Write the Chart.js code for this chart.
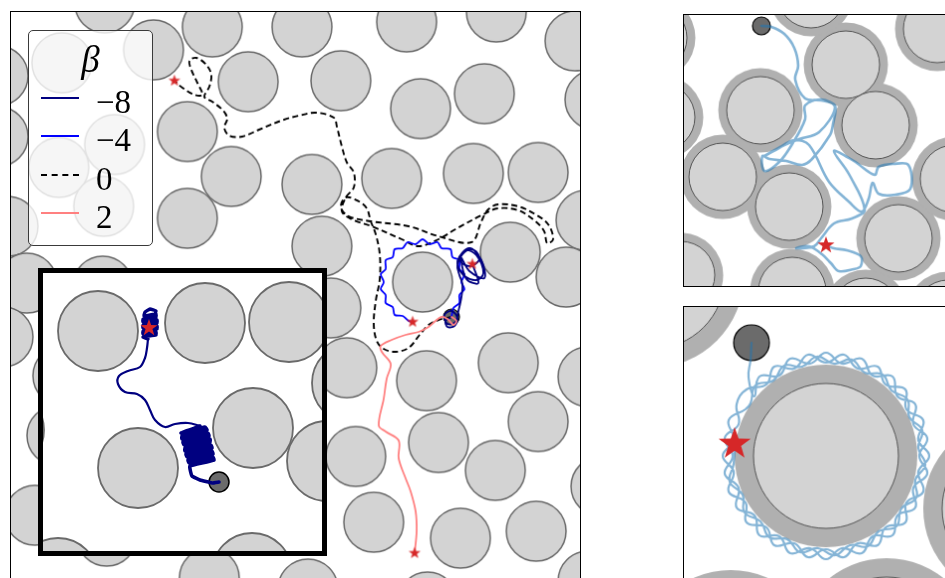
<!DOCTYPE html>
<html>
<head>
<meta charset="utf-8">
<script src="https://cdn.jsdelivr.net/npm/chart.js@4.4.0/dist/chart.umd.min.js"></script>
<style>
  body { margin: 0; width: 945px; height: 578px; overflow: hidden; position: relative; background: #fff; }
  canvas { position: absolute; display: block; }
  #main { left: 10px; top: 11px; border: 1px solid #000; }
  #insetBox { position: absolute; left: 38px; top: 268px; width: 289px; height: 288px; border: 5px solid #000; box-sizing: border-box; background: #fff; overflow: hidden; }
  #inset { left: 0; top: 0; }
  #tr { left: 683px; top: 14px; border: 1px solid #000; }
  #br { left: 683px; top: 306px; border: 1px solid #000; }
  #legend { position: absolute; left: 28px; top: 30px; width: 125px; height: 216px; box-sizing: border-box;
            border: 1px solid #3a3a3a; border-radius: 5px; background: rgba(255,255,255,0.8);
            font-family: 'Liberation Serif', serif; color: #000; }
  #legend .title { position: absolute; left: 0; right: 0; top: 10px; text-align: center; font-size: 37px; line-height: 37px; font-style: italic; }
  #legend .row { position: absolute; left: 0; height: 38px; width: 120px; }
  #legend .ln { position: absolute; left: 12px; width: 38px; top: 14px; height: 0; }
  #legend .lab { position: absolute; left: 67px; top: 0; font-size: 33px; line-height: 38px; white-space: nowrap; }
</style>
</head>
<body>
<canvas id="main" width="571" height="571"></canvas>
<div id="legend"><div class="title">β</div></div>
<div id="insetBox"><canvas id="inset" width="279" height="278"></canvas></div>
<canvas id="tr" width="273" height="273"></canvas>
<canvas id="br" width="273" height="273"></canvas>
<script>
// ---- data (picture coordinates) ----
const betaLabels = ['−8', '−4', '0', '2'];
const betaColors = ['#000080', '#0000ff', '#000000', '#ff8080'];

const mainDiscs = [
  [105, 3], [62, 63], [154, 50], [213, 27], [303, 27], [408, 22], [498, 12], [577, 41],
  [-2, 76], [249, 82], [342, 81], [422, 109], [486, 94], [597, 100],
  [-2, 137], [115, 145], [188, 132], [59, 168], [232, 177], [313, 185], [393, 179], [475, 174], [540, 173], [588, 221],
  [104, 207], [188, 219], [8, 227], [323, 247], [512, 253], [568, 278], [424, 283],
  [27, 284], [103, 287], [3, 338], [332, 309], [348, 369], [428, 382], [510, 364], [590, 378],
  [63, 377], [57, 437], [540, 423], [440, 444], [357, 458], [497, 472], [603, 488],
  [35, 517], [375, 524], [462, 540], [538, 533], [107, 538],
  [210, 580], [309, 591], [429, 604], [590, 583]
];

const pathBeta0 = [
  [453, 318], [440, 321], [430, 326], [421, 336], [410, 349], [397, 353], [385, 350], [378, 342], [375, 325],
  [377, 302], [381, 280], [381, 255], [377, 235], [372, 222], [368, 209], [360, 202], [347, 198], [342, 208],
  [350, 217], [372, 222], [410, 227], [440, 237], [473, 243], [483, 222], [490, 210], [500, 205], [520, 207],
  [537, 215], [550, 225], [555, 240], [549, 244], [546, 232], [536, 221], [520, 211], [500, 209], [483, 216],
  [457, 230], [440, 240], [420, 247], [403, 240], [373, 227], [353, 220], [343, 212], [347, 198], [355, 188],
  [355, 173], [348, 163], [343, 147], [338, 127], [335, 118], [317, 113], [300, 116], [285, 120], [260, 130],
  [243, 137], [230, 136], [225, 128], [228, 119], [224, 111], [213, 102], [205, 97], [210, 87], [212, 75],
  [207, 65], [197, 58], [190, 61], [192, 70], [198, 83], [203, 95], [195, 95], [183, 88], [175, 81]
];
const pathBetaM4 = [
  [453, 318], [455, 309], [461, 304], [461, 296], [466, 290], [463, 283], [466, 275], [461, 270], [461, 261],
  [454, 258], [452, 250], [443, 249], [439, 243], [431, 245], [424, 240], [417, 245], [409, 243], [404, 249],
  [396, 250], [394, 258], [387, 261], [387, 270], [382, 275], [385, 283], [382, 290], [387, 296], [387, 304],
  [394, 308], [396, 316], [404, 317], [410, 322], [414, 323]
];
const pathBetaM8 = [
  [453, 318], [447, 322], [449, 328], [456, 327], [459, 319], [453, 312], [446, 316], [449, 325], [457, 323],
  [460, 312], [463, 298], [464, 285], [461, 276], [459, 266], [466, 253], [476, 251], [481, 260], [472, 267],
  [462, 262], [467, 251], [478, 256], [485, 274], [478, 281], [465, 276], [459, 262], [471, 249], [483, 261],
  [486, 279], [471, 272], [463, 259], [468, 280], [480, 284], [474, 265]
];
const pathBeta2 = [
  [453, 318], [458, 322], [455, 326], [449, 320], [443, 318], [437, 322], [430, 328], [420, 333], [407, 336],
  [393, 341], [382, 347], [383, 353], [392, 365], [388, 380], [385, 400], [380, 427], [387, 433], [400, 442],
  [400, 460], [407, 480], [412, 493], [417, 513], [418, 533], [416, 555]
];
const mainStars = [[175, 81], [414, 323], [474, 265], [416, 555]];
const mainStart = [[453, 318]];

const insetDiscs = [[98, 331], [205, 323], [289, 322], [253, 428], [138, 468], [327, 461], [252, 573], [352, 383], [58, 578], [4, 430]];
// inset trajectory, in three stretches: dense block near the start, the walk, dense block at the star
const insetBlockA = [
  [219, 482], [212, 483], [200, 480], [192, 476], [190, 469],
  [190, 466], [214, 460], [213, 457], [189, 463], [188, 460], [213, 454], [212, 451], [187, 457], [186, 454],
  [212, 448], [211, 445], [185, 451], [185, 448], [210, 442], [210, 439], [184, 445], [183, 442], [209, 436],
  [208, 433], [182, 439], [182, 436], [207, 430], [205, 427], [181, 433], [200, 426]
];
const insetWalk = [
  [200, 426], [188, 423], [175, 424], [165, 427], [155, 420], [150, 410], [145, 400], [137, 394], [125, 392],
  [118, 384], [119, 376], [128, 371], [140, 367], [145, 358], [147, 348], [148, 339]
];
const insetBlockB = [
  [148, 339], [143, 337], [156, 335], [156, 332], [143, 334], [143, 331], [157, 329], [157, 326], [143, 328],
  [143, 325], [157, 323], [157, 320], [143, 322], [143, 319], [156, 317], [156, 314], [144, 316], [145, 312],
  [150, 309], [156, 311], [149, 328]
];
const insetStars = [[149, 328]];
const insetStart = [[219, 482]];

const trDiscs = [[847, 65], [761, 111], [877, 126], [723, 178], [790, 208], [900, 240], [939, 29], [956, 180],
  [653, 38], [661, 118], [681, 277], [793, 293], [867, 314], [950, 316], [812, -6]];
const trPath = [
  [762, 26], [772, 27], [785, 34], [795, 48], [799, 66], [796, 80], [806, 99], [822, 101], [836, 106], [834, 125],
  [831, 136], [813, 160], [803, 166], [787, 162], [770, 160], [763, 157], [765, 172], [780, 163], [793, 145],
  [806, 120], [806, 106], [822, 100], [836, 108], [820, 133], [800, 140], [785, 146], [765, 157], [778, 150],
  [795, 141], [810, 146], [830, 183], [850, 203], [863, 213], [870, 200], [874, 184], [880, 195], [897, 196],
  [912, 190], [910, 166], [895, 165], [880, 168], [876, 176], [855, 162], [835, 152], [850, 175], [866, 211],
  [853, 220], [835, 225], [822, 240], [815, 248], [797, 250], [810, 248], [823, 256], [832, 265], [840, 273],
  [855, 271], [862, 268], [862, 258], [848, 252], [835, 250], [827, 247]
];
const trStars = [[827, 247]];
const trStart = [[762, 26]];

const brDiscs = [[827, 457], [652, 276], [1017, 510], [888, 652], [731, 664]];
const brPath = [
  [752, 343], [751, 360], [749, 378],
  [755, 397], [760, 377], [780, 376], [791, 359], [811, 364], [827, 353], [843, 364], [863, 359], [874, 376],
  [894, 377], [899, 397], [917, 405], [915, 425], [929, 439], [921, 457], [929, 475], [915, 489], [917, 509],
  [899, 517], [894, 537], [874, 538], [863, 555], [843, 550], [827, 561], [811, 550], [791, 555], [780, 538],
  [760, 537], [755, 517], [737, 509], [739, 489], [725, 475], [733, 457], [725, 439], [739, 425], [737, 405],
  [747, 390], [767, 385], [775, 367], [795, 369], [809, 355], [827, 363], [845, 355], [859, 369], [879, 367],
  [887, 385], [907, 390], [908, 410], [925, 421], [920, 441], [931, 457], [920, 473], [925, 493], [908, 504],
  [907, 524], [887, 529], [879, 547], [859, 545], [845, 559], [827, 551], [809, 559], [795, 545], [775, 547],
  [767, 529], [747, 524], [746, 504], [729, 493], [734, 473], [723, 457], [734, 441], [729, 421], [746, 410],
  [751, 404], [756, 386], [774, 381], [785, 366], [803, 367], [818, 357], [835, 364], [853, 360], [866, 373],
  [884, 375], [893, 391], [909, 400], [911, 418], [924, 431], [920, 449], [927, 466], [917, 481], [918, 499],
  [903, 510], [898, 528], [880, 533], [869, 548], [851, 547], [836, 557], [819, 550], [801, 554], [788, 541],
  [770, 539], [761, 523], [745, 514], [743, 496], [730, 483], [734, 465], [735, 445]
];
const brStars = [[735, 445]];
const brStart = [[752, 343]];

// ---- helpers ----
const pts = list => list.map(([x, y]) => ({ x, y }));
const pxLen = (chart, d) => Math.abs(chart.scales.x.getPixelForValue(d) - chart.scales.x.getPixelForValue(0));

function starImage(R, color) {
  const c = document.createElement('canvas');
  const s = Math.ceil(R * 2 + 2);
  c.width = c.height = s;
  const g = c.getContext('2d');
  g.fillStyle = color;
  g.beginPath();
  for (let i = 0; i < 10; i++) {
    const a = -Math.PI / 2 + i * Math.PI / 5;
    const rr = i % 2 ? R * 0.4 : R;
    g.lineTo(s / 2 + rr * Math.cos(a), s / 2 + rr * Math.sin(a));
  }
  g.closePath();
  g.fill();
  return c;
}

function discs(list, r, fill, edge, lw, order) {
  return {
    data: pts(list), showLine: false, order,
    pointRadius: ctx => pxLen(ctx.chart, r),
    pointBackgroundColor: fill, pointBorderColor: edge, pointBorderWidth: lw,
  };
}
function path(list, color, lw, dash, order, tension = 0.35) {
  return {
    data: pts(list), showLine: true, order, tension,
    borderColor: color, borderWidth: lw, borderDash: dash, pointRadius: 0,
    borderJoinStyle: 'round', borderCapStyle: dash.length ? 'butt' : 'round',
  };
}
function stars(list, R) {
  return { data: pts(list), showLine: false, order: 0, pointStyle: starImage(R, '#d62728'), pointRadius: R };
}

function panel(id, xr, yr, datasets) {
  return new Chart(document.getElementById(id), {
    type: 'scatter',
    data: { datasets },
    options: {
      responsive: false, animation: false, devicePixelRatio: 1, events: [],
      layout: { padding: 0, autoPadding: false },
      plugins: { legend: { display: false }, tooltip: { enabled: false } },
      scales: {
        x: { type: 'linear', display: false, min: xr[0], max: xr[1] },
        y: { type: 'linear', display: false, min: yr[0], max: yr[1], reverse: true },
      },
    },
  });
}

// ---- main panel ----
panel('main', [11, 582], [12, 583], [
  stars(mainStars, 6.3),
  path(pathBeta2, betaColors[3], 1.8, [], 1),
  path(pathBetaM8, betaColors[0], 1.8, [], 2),
  path(pathBetaM4, betaColors[1], 1.8, [], 3, 0.3),
  path(pathBeta0, betaColors[2], 1.9, [6, 3.5], 4),
  discs(mainStart, 8, '#6b6b6b', '#000', 1.2, 5),
  discs(mainDiscs, 30, '#d3d3d3', '#6a6a6a', 1.5, 10),
]);

// ---- inset ----
panel('inset', [43, 322], [273, 551], [
  stars(insetStars, 9),
  path(insetBlockA, betaColors[0], 3.6, [], 1, 0.1),
  path(insetWalk, betaColors[0], 2.2, [], 1, 0.35),
  path(insetBlockB, betaColors[0], 3.4, [], 1, 0.1),
  discs(insetStart, 10, '#6b6b6b', '#000', 1.5, 5),
  discs(insetDiscs, 40, '#d3d3d3', '#6a6a6a', 1.8, 10),
]);

// ---- right panels ----
const trajBlue = 'rgba(31,119,180,0.55)';
panel('tr', [684, 957], [15, 288], [
  stars(trStars, 9),
  path(trPath, trajBlue, 2.6, [], 1),
  discs(trStart, 9, '#6b6b6b', '#000', 1.2, 5),
  discs(trDiscs, 34, '#d3d3d3', '#555', 1, 10),
  discs(trDiscs, 42.5, '#b0b0b0', 'rgba(0,0,0,0)', 0, 11),
]);
panel('br', [684, 957], [307, 580], [
  stars(brStars, 17),
  path(brPath, trajBlue, 2.2, [], 1, 0.45),
  discs(brStart, 18, '#6b6b6b', '#000', 1.2, 5),
  discs(brDiscs, 73, '#d3d3d3', '#555', 1, 10),
  discs(brDiscs, 92, '#b0b0b0', 'rgba(0,0,0,0)', 0, 11),
]);

// ---- legend ----
const legend = document.getElementById('legend');
betaLabels.forEach((lab, i) => {
  const row = document.createElement('div');
  row.className = 'row';
  row.style.top = (52 + 38.3 * i) + 'px';
  const ln = document.createElement('span');
  ln.className = 'ln';
  ln.style.borderTop = '2px ' + (lab === '0' ? 'dashed ' : 'solid ') + betaColors[i];
  const t = document.createElement('span');
  t.className = 'lab';
  t.textContent = lab;
  row.appendChild(ln);
  row.appendChild(t);
  legend.appendChild(row);
});
</script>
</body>
</html>
